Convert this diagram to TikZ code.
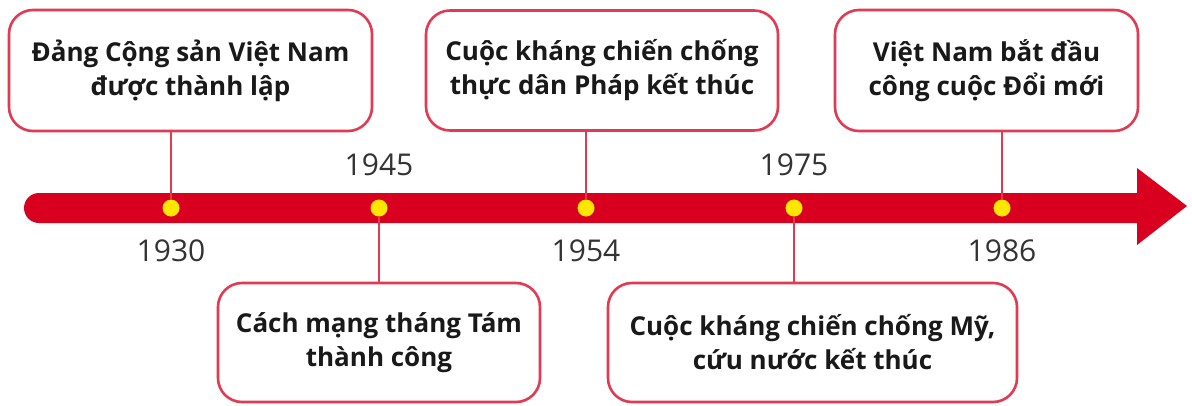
\documentclass[tikz,border=0pt]{standalone}
\usepackage{fontspec}
\setmainfont{Open Sans}
\definecolor{barred}{HTML}{D9001F}
\definecolor{boxred}{HTML}{E23A52}
\definecolor{dotyellow}{HTML}{FFE600}
\begin{document}
\begin{tikzpicture}[x=1pt,y=-1pt,
  eventbox/.style={draw=boxred,line width=2.6pt,rounded corners=24pt,fill=white,
    align=center,inner sep=0pt,font=\fontsize{26}{34}\selectfont\bfseries,text=black!90},
  link/.style={draw=boxred,line width=2pt},
  yeardot/.style={circle,fill=dotyellow,minimum size=17pt,inner sep=0pt},
  yearlabel/.style={font=\fontsize{30}{34}\selectfont,text=black!80,inner sep=0pt}]
\useasboundingbox (0,0) rectangle (1192,405);
% timeline bar with arrow
\fill[barred,rounded corners=15pt] (24,193) rectangle (1160,223);
\fill[barred] (1137,168) -- (1187,206) -- (1137,245) -- cycle;
% boxes
\node[eventbox,minimum width=363pt,minimum height=121pt] (b1) at (190.5,70.5) {Đảng Cộng sản Việt Nam\\được thành lập};
\node[eventbox,minimum width=322pt,minimum height=119pt] (b2) at (379,342.5) {Cách mạng tháng Tám\\thành công};
\node[eventbox,minimum width=352pt,minimum height=120pt] (b3) at (602,70.5) {Cuộc kháng chiến chống\\thực dân Pháp kết thúc};
\node[eventbox,minimum width=409pt,minimum height=119pt] (b4) at (812.5,342.5) {Cuộc kháng chiến chống Mỹ,\\cứu nước kết thúc};
\node[eventbox,minimum width=303pt,minimum height=121pt] (b5) at (986.5,70.5) {Việt Nam bắt đầu\\công cuộc Đổi mới};
% dots
\node[yeardot] (d1) at (171,208) {};
\node[yeardot] (d2) at (379,208) {};
\node[yeardot] (d3) at (586,208) {};
\node[yeardot] (d4) at (794,208) {};
\node[yeardot] (d5) at (1002,208) {};
% connectors
\draw[link] (b1.south -| d1) -- (d1.north);
\draw[link] (d2.south) -- (b2.north -| d2);
\draw[link] (b3.south -| d3) -- (d3.north);
\draw[link] (d4.south) -- (b4.north -| d4);
\draw[link] (b5.south -| d5) -- (d5.north);
% years
\node[yearlabel] (y1) at (171,251) {1930};
\node[yearlabel] (y2) at (379,165) {1945};
\node[yearlabel] (y3) at (586,251) {1954};
\node[yearlabel] (y4) at (794,165) {1975};
\node[yearlabel] (y5) at (1002,251) {1986};
\end{tikzpicture}
\end{document}
